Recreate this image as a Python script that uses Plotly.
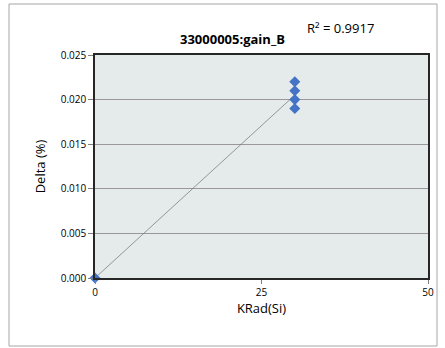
import numpy as np
import plotly.graph_objects as go

# Measurements: dose (KRad(Si)) vs. gain delta (%)
dose = [0, 30, 30, 30, 30]
delta = [0.0, 0.019, 0.020, 0.021, 0.022]
x_ticks = [0, 25, 50]
y_ticks = [0.000, 0.005, 0.010, 0.015, 0.020, 0.025]
title_text = "33000005:gain_B"
r2_text = "R² = 0.9917"

W, H = 445, 348
L, R, T, B = 95, 17, 55, 70
pw, ph = W - L - R, H - T - B

# Linear trend over the data range
slope, intercept = np.polyfit(dose, delta, 1)
xt = np.array([min(dose), max(dose)])
yt = slope * xt + intercept

font = "Open Sans, Liberation Sans, sans-serif"

fig = go.Figure()
fig.add_trace(go.Scatter(x=xt, y=yt, mode="lines",
                         line=dict(color="#7f7f7f", width=0.8),
                         showlegend=False, hoverinfo="skip"))
fig.add_trace(go.Scatter(x=dose, y=delta, mode="markers",
                         marker=dict(symbol="diamond", size=8.5, color="#4472C4",
                                     line=dict(width=0)),
                         showlegend=False, cliponaxis=False))


def px_x(p):
    return (p - L) / pw


def px_y(p):
    return (H - B - p) / ph


# Outer chart border
fig.add_shape(type="rect", xref="paper", yref="paper",
              x0=px_x(9), x1=px_x(437), y0=px_y(346), y1=px_y(4),
              line=dict(color="#a6a6a6", width=1), layer="below")

fig.add_annotation(text="<b>" + title_text + "</b>", xref="paper", yref="paper",
                   x=px_x(232), y=px_y(28), showarrow=False,
                   font=dict(family=font, size=13, color="#000000"))
fig.add_annotation(text=r2_text, xref="paper", yref="paper",
                   x=px_x(376), y=px_y(17), showarrow=False,
                   font=dict(family=font, size=13, color="#000000"))

fig.update_layout(
    width=W, height=H,
    margin=dict(l=L, r=R, t=T, b=B),
    paper_bgcolor="white",
    plot_bgcolor="#e5ebeb",
    font=dict(family=font, size=10, color="#000000"),
    xaxis=dict(range=[0, 50], tickvals=x_ticks, ticktext=[str(v) for v in x_ticks],
               showgrid=False, zeroline=False, showline=True, mirror=True,
               linecolor="#262626", linewidth=1.5,
               ticks="outside", ticklen=4, tickcolor="#808080",
               title=dict(text="KRad(Si)", font=dict(size=13), standoff=6)),
    yaxis=dict(range=[0, 0.025], tickvals=y_ticks,
               ticktext=[f"{v:.3f}" for v in y_ticks],
               showgrid=True, gridcolor="#999999", gridwidth=1,
               zeroline=False, showline=True, mirror=True,
               linecolor="#262626", linewidth=1.5,
               ticks="outside", ticklen=5, tickcolor="#808080",
               title=dict(text="Delta (%)", font=dict(size=13), standoff=12)),
)

fig.write_html("out.html")
